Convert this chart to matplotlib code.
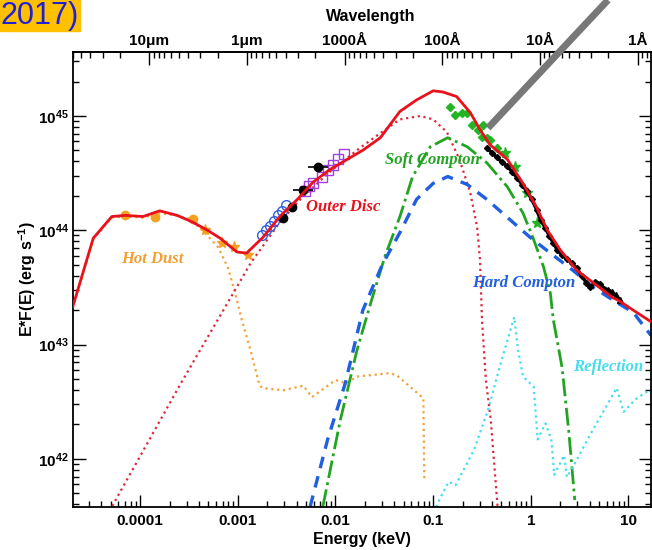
import numpy as np
import matplotlib
matplotlib.use("Agg")
import matplotlib.pyplot as plt
from matplotlib.lines import Line2D
from matplotlib.patches import Rectangle
from matplotlib.ticker import FuncFormatter, LogLocator, NullFormatter

plt.rcParams['font.family'] = ['Liberation Sans', 'DejaVu Sans']
plt.rcParams['font.weight'] = 'bold'
plt.rcParams['axes.labelweight'] = 'bold'
plt.rcParams['mathtext.fontset'] = 'custom'
plt.rcParams['mathtext.rm'] = 'Liberation Sans:bold'
plt.rcParams['mathtext.bf'] = 'Liberation Sans:bold'
plt.rcParams['mathtext.default'] = 'rm'

# values: log10(E / keV) and log10(E*F(E) / erg s^-1)
total_logE = [-4.69, -4.48, -4.29, -4.15, -3.97, -3.80, -3.62, -3.46, -3.31, -3.18,
              -3.01, -2.91, -2.74, -2.57, -2.39, -2.23, -2.06, -1.88, -1.72, -1.54,
              -1.34, -1.17, -1.00, -0.90, -0.76, -0.62, -0.52, -0.42, -0.24, -0.08,
              0.06, 0.17, 0.30, 0.47, 0.64, 0.84, 0.89, 1.05, 1.23]
total_logL = [43.33, 43.93, 44.12, 44.13, 44.12, 44.17, 44.13, 44.07, 44.00, 43.93,
              43.81, 43.80, 43.94, 44.12, 44.27, 44.42, 44.53, 44.62, 44.70, 44.81,
              45.04, 45.14, 45.22, 45.21, 45.17, 45.03, 44.88, 44.75, 44.62, 44.41,
              44.20, 44.00, 43.83, 43.65, 43.54, 43.41, 43.39, 43.30, 43.20]

dust_logE = [-4.69, -4.48, -4.29, -4.15, -3.97, -3.80, -3.64, -3.49, -3.34, -3.20,
             -3.10, -3.03, -2.96, -2.87, -2.78, -2.75, -2.53, -2.33, -2.24, -2.00,
             -1.89, -1.78, -1.44, -1.37, -1.10, -1.09]
dust_logL = [43.32, 43.92, 44.11, 44.12, 44.11, 44.15, 44.13, 44.10, 43.98, 43.85,
             43.67, 43.46, 43.22, 42.95, 42.65, 42.62, 42.60, 42.64, 42.54, 42.69,
             42.66, 42.72, 42.75, 42.73, 42.53, 41.80]

disc_logE = [-4.35, -4.29, -3.59, -2.87, -2.57, -2.36, -2.06, -1.75, -1.54, -1.34,
             -1.13, -1.00, -0.86, -0.73, -0.62, -0.55, -0.52, -0.50, -0.46, -0.41, -0.34]
disc_logL = [41.50, 41.58, 42.65, 43.71, 44.07, 44.27, 44.51, 44.72, 44.85, 44.97,
             45.00, 44.97, 44.86, 44.62, 44.33, 44.03, 43.74, 43.22, 42.69, 42.34, 41.58]

soft_logE = [-2.13, -1.95, -1.78, -1.63, -1.49, -1.34, -1.21, -1.03, -0.85, -0.65,
             -0.45, -0.24, -0.08, 0.02, 0.13, 0.20, 0.23, 0.32, 0.39, 0.45]
soft_logL = [41.58, 42.34, 42.95, 43.39, 43.78, 44.12, 44.47, 44.73, 44.81, 44.73,
             44.59, 44.38, 44.15, 43.94, 43.68, 43.45, 43.22, 42.80, 42.23, 41.64]

hard_logE = [-2.26, -2.08, -1.90, -1.72, -1.52, -1.34, -1.17, -1.00, -0.85, -0.65,
             -0.45, -0.21, -0.01, 0.20, 0.43, 0.64, 0.84, 1.05, 1.23]
hard_logL = [41.58, 42.17, 42.66, 43.30, 43.70, 43.98, 44.27, 44.41, 44.47, 44.40,
             44.27, 44.09, 43.94, 43.80, 43.65, 43.50, 43.39, 43.28, 43.08]

refl_logE = [-0.97, -0.92, -0.84, -0.77, -0.58, -0.43, -0.32, -0.17, -0.13, -0.08,
             0.03, 0.07, 0.15, 0.21, 0.24, 0.34, 0.37, 0.45, 0.62, 0.88, 0.95, 1.07, 1.21]
refl_logL = [41.58, 41.67, 41.80, 41.77, 42.08, 42.45, 42.80, 43.24, 42.95, 42.72,
             42.63, 42.17, 42.31, 42.17, 41.86, 42.03, 41.84, 41.96, 42.23, 42.62,
             42.41, 42.52, 42.60]

# data points
ir_circ_logE = [-4.15, -3.85, -3.46]
ir_circ_logL = [44.13, 44.12, 44.10]
ir_star_logE = [-3.34, -3.16, -3.04, -2.90]
ir_star_logL = [44.00, 43.89, 43.85, 43.78]

uv_logE = [-2.75, -2.71, -2.67, -2.63, -2.59, -2.55, -2.51]
uv_logL = [43.96, 44.00, 44.04, 44.08, 44.13, 44.17, 44.22]
sq_logE = [-2.31, -2.27, -2.23, -2.14, -2.08, -2.03, -1.97, -1.91]
sq_logL = [44.34, 44.39, 44.41, 44.47, 44.53, 44.57, 44.62, 44.67]
opt_logE = [-2.54, -2.44, -2.33, -2.18]
opt_logL = [44.11, 44.20, 44.35, 44.55]
opt_xerr_dex = [0.0, 0.03, 0.10, 0.10]

euv_logE = [-0.83, -0.78, -0.70, -0.65, -0.60, -0.54, -0.49, -0.50, -0.45, -0.42, -0.35]
euv_logL = [45.08, 45.01, 45.03, 45.03, 44.92, 44.88, 44.92, 44.82, 44.81, 44.79, 44.72]
euv_star_logE = [-0.26, -0.16, -0.04, 0.06]
euv_star_logL = [44.68, 44.55, 44.33, 44.06]

xray_logE = [-0.45, -0.40, -0.35, -0.30, -0.24, -0.19, -0.14, -0.09, -0.04, 0.01,
             0.06, 0.10, 0.15, 0.19, 0.23, 0.27, 0.32, 0.37, 0.42, 0.47,
             0.52, 0.57, 0.61, 0.66, 0.71, 0.75, 0.79, 0.83, 0.87, 0.91]
xray_logL = [44.72, 44.68, 44.64, 44.60, 44.56, 44.51, 44.46, 44.40, 44.34, 44.27,
             44.18, 44.09, 44.02, 43.95, 43.89, 43.83, 43.78, 43.75, 43.71, 43.67,
             43.60, 43.54, 43.50, 43.55, 43.53, 43.49, 43.48, 43.46, 43.43, 43.39]

wave_ticks = [1e5, 1e4, 1e3, 1e2, 1e1, 1e0]   # Angstrom
wave_labels = ['10μm', '1μm', '1000Å', '100Å', '10Å', '1Å']
HC = 12.398  # keV * Angstrom


def p(a):
    return 10 ** np.array(a)


fig = plt.figure(figsize=(6.52, 5.5), dpi=100)
ax = fig.add_axes([0.1115, 0.0782, 0.8877, 0.8273])
ax.set_xscale('log')
ax.set_yscale('log')

# models
ax.plot(p(dust_logE), p(dust_logL), ':', color='#F2A23A', lw=1.6, zorder=2)
ax.plot(p(disc_logE), p(disc_logL), ':', color='#DC2A3C', lw=1.6, zorder=2)
ax.plot(p(soft_logE), p(soft_logL), '-.', color='#22A422', lw=2.0, zorder=2)
ax.plot(p(hard_logE), p(hard_logL), '--', color='#1F5FE0', lw=2.4, dashes=(3.5, 2.5), zorder=2)
ax.plot(p(refl_logE), p(refl_logL), ':', color='#45DDEE', lw=1.6, zorder=2)

# data
ax.plot(p(ir_circ_logE), p(ir_circ_logL), 'o', color='#F5A020', ms=6, zorder=3)
ax.plot(p(ir_star_logE), p(ir_star_logL), '*', color='#F5A020', ms=8, zorder=3)
ax.plot(p(uv_logE), p(uv_logL), 'o', mfc='none', mec='#2F5FE8', mew=1.0, ms=7, zorder=3)
ax.plot(p(sq_logE), p(sq_logL), 's', mfc='none', mec='#A040E0', mew=1.0, ms=7, zorder=3)
oe = p(opt_logE)
xerr = [oe - oe / p(opt_xerr_dex), oe * p(opt_xerr_dex) - oe]
ax.errorbar(oe, p(opt_logL), xerr=xerr, fmt='o', color='black', ms=6, elinewidth=1.2, capsize=0, zorder=3)
ax.plot(p(euv_logE), p(euv_logL), 'D', color='#22B422', ms=4.5, zorder=3)
ax.plot(p(euv_star_logE), p(euv_star_logL), '*', color='#22B422', ms=8, zorder=3)
ax.plot(p(xray_logE), p(xray_logL), '-', color='black', lw=2.5, zorder=3)
ax.plot(p(xray_logE[:-4]), p(xray_logL[:-4]), 'D', color='black', ms=3, zorder=3)
ax.plot(p(xray_logE[-4:]), p(xray_logL[-4:]), '^', color='black', ms=4, zorder=3)

# total model on top
ax.plot(p(total_logE), p(total_logL), '-', color='#E8121C', lw=2.0, zorder=5)

ax.set_xlim(2.04e-5, 17.2)
ax.set_ylim(3.79e41, 3.63e45)

lab = dict(family='Liberation Serif', style='italic', weight='bold', fontsize=12,
           transform=ax.transAxes, ha='center', va='center')
ax.text(0.137, 0.545, 'Hot Dust', color='#F0A030', **lab)
ax.text(0.467, 0.659, 'Outer Disc', color='#E8121C', **lab)
ax.text(0.621, 0.763, 'Soft Compton', color='#22A422', **lab)
ax.text(0.780, 0.492, 'Hard Compton', color='#1F5FE0', **lab)
ax.text(0.925, 0.308, 'Reflection', color='#45DDEE', **lab)

ax.yaxis.set_major_locator(LogLocator(base=10, numticks=20))
ax.yaxis.set_major_formatter(FuncFormatter(lambda v, pos: r'$10^{%d}$' % round(np.log10(v))))
ax.yaxis.set_minor_formatter(NullFormatter())
ax.xaxis.set_major_formatter(FuncFormatter(lambda v, pos: ('%g' % v)))
ax.xaxis.set_minor_formatter(NullFormatter())

ax.tick_params(axis='both', which='both', direction='in', width=1.0, labelsize=11)
ax.tick_params(axis='x', which='both', top=False, bottom=True, pad=5)
ax.tick_params(axis='y', which='both', left=True, right=True, pad=3)
ax.tick_params(which='major', length=9)
ax.tick_params(which='minor', length=4.5)
for s in ax.spines.values():
    s.set_linewidth(1.3)

ax.set_xlabel('Energy (keV)', fontsize=11.5, labelpad=3)
ax.set_ylabel('E*F(E) (erg s$^{-1}$)', fontsize=11.5, labelpad=0)

sec = ax.secondary_xaxis('top', functions=(lambda e: HC / e, lambda w: HC / w))
sec.set_xticks(wave_ticks, labels=wave_labels)
sec.xaxis.set_minor_locator(LogLocator(base=10, subs=np.arange(2, 10), numticks=20))
sec.xaxis.set_minor_formatter(NullFormatter())
sec.tick_params(axis='x', which='both', direction='in', width=1.0, labelsize=11, pad=3)
sec.tick_params(which='major', length=9)
sec.tick_params(which='minor', length=4.5)
sec.spines['top'].set_linewidth(1.3)
sec.set_xlabel('Wavelength', fontsize=11.5, labelpad=9)
sec.xaxis.label.set_x(0.515)

# page decorations from the source
fig.add_artist(Line2D([488 / 652, 608 / 652], [1 - 128 / 550, 1.0], color='#787878', lw=5,
                      solid_capstyle='butt', transform=fig.transFigure, zorder=10))
fig.add_artist(Rectangle((0, 1 - 31 / 550), 80 / 652, 31 / 550, transform=fig.transFigure,
                         color='#FFC000', zorder=10))
fig.text(1 / 652, 1 - 24 / 550, '2017)', color='#2121D4', fontsize=22, weight='normal',
         family='Liberation Sans', va='baseline', zorder=11)

fig.savefig('out.png', dpi=100)
